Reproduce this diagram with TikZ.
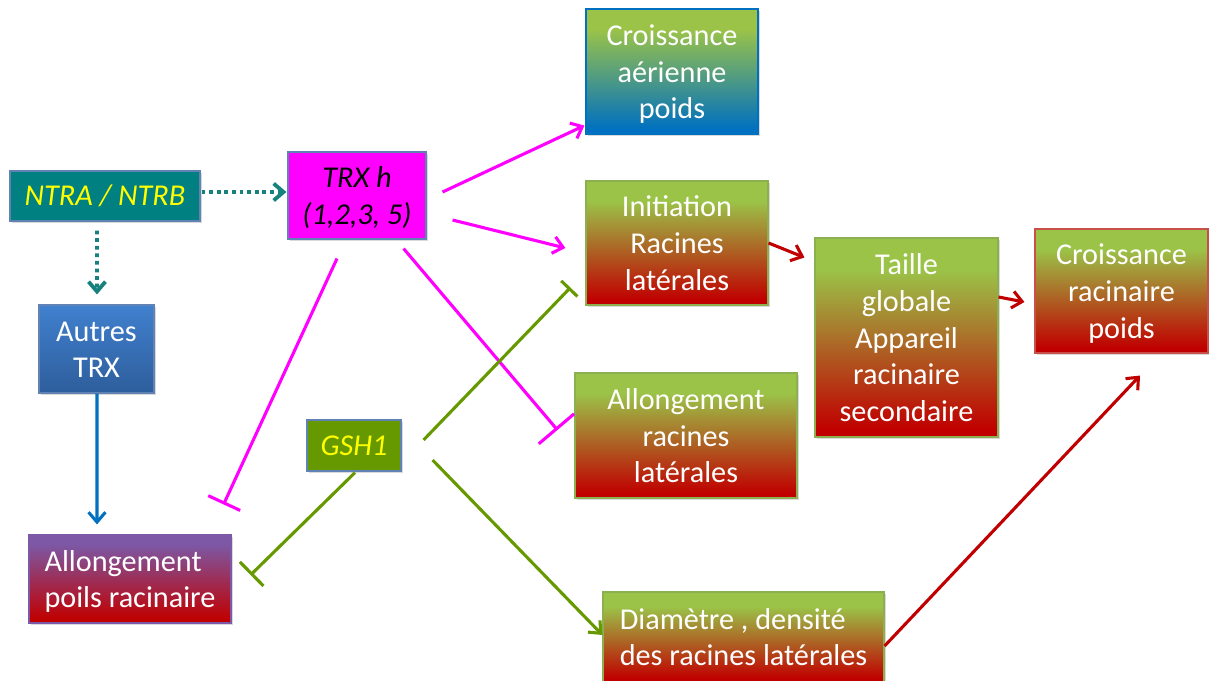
\documentclass[tikz,border=0pt]{standalone}
\usepackage{fontspec}
\setmainfont{Carlito}
\usetikzlibrary{arrows.meta,shadows}
\definecolor{cgreen}{RGB}{155,195,72}
\definecolor{cred}{RGB}{192,0,0}
\definecolor{cblue}{RGB}{0,112,192}
\definecolor{cpurple}{RGB}{124,88,166}
\definecolor{ctrxa}{RGB}{64,128,206}
\definecolor{ctrxb}{RGB}{46,94,156}
\definecolor{cteal}{RGB}{0,128,128}
\definecolor{cdteal}{RGB}{23,130,125}
\definecolor{cmag}{RGB}{255,0,255}
\definecolor{colive}{RGB}{102,153,0}
\definecolor{cline}{RGB}{96,130,180}
\definecolor{cgline}{RGB}{140,175,80}
\definecolor{crline}{RGB}{200,80,75}
\definecolor{cyel}{RGB}{255,255,0}
\pgfdeclareverticalshading{greenred}{100bp}{color(0bp)=(cred); color(27bp)=(cred); color(67bp)=(cgreen); color(100bp)=(cgreen)}
\pgfdeclareverticalshading{greenblue}{100bp}{color(0bp)=(cblue); color(27bp)=(cblue); color(67bp)=(cgreen); color(100bp)=(cgreen)}
\pgfdeclareverticalshading{purplered}{100bp}{color(0bp)=(cred); color(27bp)=(cred); color(70bp)=(cpurple); color(100bp)=(cpurple)}
\pgfdeclareverticalshading{trxblue}{100bp}{color(0bp)=(ctrxb); color(25bp)=(ctrxb); color(75bp)=(ctrxa); color(100bp)=(ctrxa)}
\newcommand\pxu{0.025cm}
\newcommand\ts{\rule{0pt}{20pt}}
\newcommand\bs{\rule[-5pt]{0pt}{0pt}}
\tikzset{
  box/.style={draw=cline, line width=0.8pt, align=center, inner sep=0pt,
    text=white, font=\fontsize{21.5pt}{26.2pt}\selectfont,
    drop shadow={shadow xshift=1.6pt, shadow yshift=-1.6pt, opacity=0.3}},
  sz/.style 2 args={minimum width=#1*\pxu, minimum height=#2*\pxu},
  con/.style={line width=2.2pt},
  arrowhd/.style={-{Straight Barb[length=7pt,width=12pt]}},
  barhd/.style={-{Bar[width=#1]}},
  dots/.style={line width=2.7pt, dash pattern=on 2.7pt off 2.7pt, cdteal},
  mag/.style={con, cmag},
  grn/.style={con, colive},
  rd/.style={con, cred},
  bl/.style={con, cblue},
}
\begin{document}
\begin{tikzpicture}[x=0.025cm, y=-0.025cm]
\useasboundingbox (0,0) rectangle (1209,680);
% nodes
\node[box, sz={190}{50}, fill=cteal, text=cyel, font=\fontsize{21.5pt}{26.2pt}\selectfont\itshape] (ntra) at (105,196) {NTRA / NTRB};
\node[box, sz={138}{87}, fill=cmag, text=black, font=\fontsize{21.5pt}{26.2pt}\selectfont\itshape] (trx) at (357,195.5) {\ts TRX h\\(1,2,3, 5)\bs};
\node[box, sz={115}{88}, shading=trxblue] (autres) at (96.5,349) {\ts Autres\\TRX\bs};
\node[box, sz={202}{88}, shading=purplered, align=left, draw=cpurple] (poils) at (130,579) {\ts Allongement\\poils racinaire\bs};
\node[box, sz={94}{51}, fill=colive, text=cyel, font=\fontsize{21.5pt}{26.2pt}\selectfont\itshape] (gsh) at (354,445.5) {GSH1};
\node[box, sz={172}{125}, shading=greenblue, draw=cblue] (aer) at (672,71.5) {\ts Croissance\\aérienne\\poids\bs};
\node[box, sz={182}{124}, shading=greenred, draw=cgline] (init) at (677,243) {\ts Initiation\\Racines\\latérales\bs};
\node[box, sz={222}{125}, shading=greenred, draw=cgline] (allr) at (686,435.5) {\ts Allongement\\racines\\latérales\bs};
\node[box, sz={183}{199}, shading=greenred, draw=cgline] (taille) at (906.5,337.5) {\ts Taille\\globale\\Appareil\\racinaire\\secondaire\bs};
\node[box, sz={173}{124}, shading=greenred, draw=crline] (racin) at (1121.5,291) {\ts Croissance\\racinaire\\poids\bs};
\node[box, sz={281}{90}, shading=greenred, draw=cgline, align=left] (diam) at (743.5,637) {\ts Diamètre , densité\\des racines latérales\bs};
% connectors
\draw[dots, arrowhd] ([shift={(1,-4)}]ntra.east) -- ([shift={(-1,-3.5)}]trx.west);
\draw[dots, arrowhd] ([shift={(-8,9)}]ntra.south) -- ([shift={(0.5,-10)}]autres.north);
\draw[bl, arrowhd] ([shift={(0.5,0)}]autres.south) -- ([shift={(-33,-10)}]poils.north);
\draw[mag, barhd=25pt] ([shift={(-20,19)}]trx.south) -- ([shift={(-8,-30)}]poils.north east);
\draw[mag, arrowhd] ([shift={(16,-3.5)}]trx.east) -- ([shift={(-1,-9)}]aer.south west);
\draw[mag, arrowhd] ([shift={(26,24.5)}]trx.east) -- ([shift={(-20,5)}]init.west);
\draw[mag, barhd=33pt] ([shift={(-23,9)}]trx.south east) -- ([shift={(-17,-5.5)}]allr.west);
\draw[grn, barhd=24pt] ([shift={(1,1)}]gsh.south) -- ([shift={(19,-4)}]poils.east);
\draw[grn, barhd=16pt] ([shift={(22,-5.5)}]gsh.east) -- ([shift={(-15,-18)}]init.south west);
\draw[grn, arrowhd] ([shift={(31,14.5)}]gsh.east) -- ([shift={(0,-2)}]diam.west);
\draw[rd, arrowhd] (init.east) -- ([shift={(-10,20)}]taille.north west);
\draw[rd, arrowhd] ([shift={(0,-40.5)}]taille.east) -- ([shift={(-10,11)}]racin.west);
\draw[rd, arrowhd] ([shift={(0,9)}]diam.east) -- ([shift={(18.5,22)}]racin.south);
\end{tikzpicture}
\end{document}
